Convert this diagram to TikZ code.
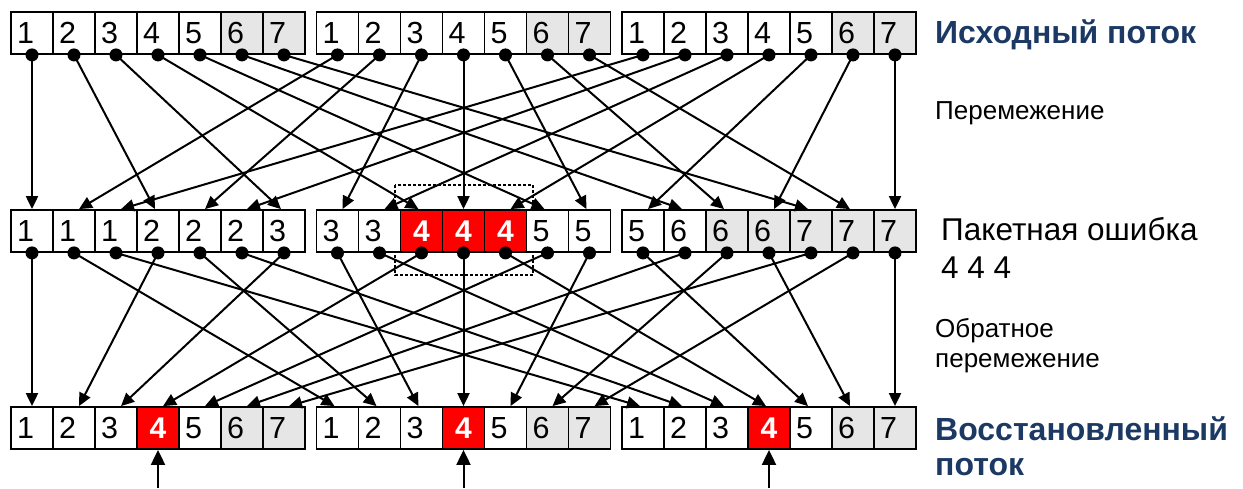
\documentclass[tikz,border=0pt]{standalone}
\usepackage{fontspec}
\setmainfont{Liberation Sans}
\usetikzlibrary{arrows.meta}
\definecolor{navy}{RGB}{28,57,100}
\definecolor{cellgray}{RGB}{230,230,230}
\definecolor{errred}{RGB}{255,0,0}
\begin{document}
\begin{tikzpicture}[x=1pt,y=-1pt,
  cell/.style={draw=black, line width=1.8pt, fill=white, minimum width=42pt, minimum height=42pt,
    inner xsep=6pt, inner ysep=0pt, text width=30pt, align=left,
    font=\fontsize{30.5}{30.5}\selectfont},
  graycell/.style={cell, fill=cellgray},
  redcell/.style={cell, fill=errred, text=white, align=center,
    font=\fontsize{30}{30}\selectfont\bfseries},
  conn/.style={line width=2pt, -{Triangle[length=13pt,width=12pt]}},
  upconn/.style={line width=2pt, -{Triangle[length=15pt,width=14pt]}},
  dashbox/.style={line width=1.3pt, dash pattern=on 3pt off 2pt},
  titletext/.style={anchor=base west, inner sep=0pt, text=navy, font=\fontsize{32}{32}\selectfont\bfseries},
  plaintext/.style={anchor=base west, inner sep=0pt, font=\fontsize{26}{26}\selectfont},
  bigtext/.style={anchor=base west, inner sep=0pt, font=\fontsize{31.5}{31.5}\selectfont}
]
\useasboundingbox (0,0) rectangle (1243,488);

% dashed frame around the burst error
\draw[dashbox] (395,185) rectangle (533,275);

% cells
\foreach \bb/\bx in {0/11,1/316.5,2/622} {
  \foreach \ss in {0,...,6} {
    \pgfmathtruncatemacro\ix{7*\bb+\ss}
    \pgfmathtruncatemacro\dg{\ss+1}
    % top row
    \ifnum\ss>4 \def\st{graycell}\else\def\st{cell}\fi
    \node[\st] (t\ix) at (\bx+42*\ss+21,33) {\dg};
    % bottom row
    \ifnum\ss=3 \def\st{redcell}\fi
    \node[\st] (b\ix) at (\bx+42*\ss+21,428) {\dg};
    % middle row
    \pgfmathtruncatemacro\md{int(\ix/3)+1}
    \def\st{cell}
    \ifnum\ix>8 \ifnum\ix<12 \def\st{redcell}\fi\fi
    \ifnum\ix>15 \def\st{graycell}\fi
    \node[\st] (m\ix) at (\bx+42*\ss+21,231) {\md};
  }
}

% interleaving: top -> middle
\foreach \bb in {0,1,2} {
  \foreach \ss in {0,...,6} {
    \pgfmathtruncatemacro\src{7*\bb+\ss}
    \pgfmathtruncatemacro\dst{3*\ss+\bb}
    \pgfmathsetmacro\off{(\src>\dst)*5-(\src<\dst)*3}
    \draw[conn] (t\src.south) -- ([xshift=\off pt]m\dst.north);
  }
}

% deinterleaving: middle -> bottom
\foreach \mm in {0,...,20} {
  \pgfmathtruncatemacro\dst{7*mod(\mm,3)+int(\mm/3)}
  \pgfmathsetmacro\off{(\mm>\dst)*5-(\mm<\dst)*3}
  \draw[conn] (m\mm.south) -- ([xshift=\off pt]b\dst.north);
}

% dots
\foreach \ix in {0,...,20} {
  \fill (t\ix.south) circle[radius=6.5pt];
  \fill (m\ix.south) circle[radius=6.5pt];
}

% arrows pointing to the recovered symbols
\coordinate (u1) at (158,488);
\coordinate (u2) at (463.5,488);
\coordinate (u3) at (769,488);
\draw[upconn] (u1) -- (b3.south);
\draw[upconn] (u2) -- (b10.south);
\draw[upconn] (u3) -- (b17.south);

% labels
\node[titletext] (l1) at (935,43) {Исходный поток};
\node[plaintext] (l2) at (935,119) {Перемежение};
\node[bigtext] (l3) at (941,240) {Пакетная ошибка};
\node[bigtext] (l4) at (941,278) {4 4 4};
\node[plaintext] (l5) at (935,337) {Обратное};
\node[plaintext] (l6) at (935,367) {перемежение};
\node[titletext] (l7) at (935,440) {Восстановленный};
\node[titletext] (l8) at (935,475) {поток};
\end{tikzpicture}
\end{document}
